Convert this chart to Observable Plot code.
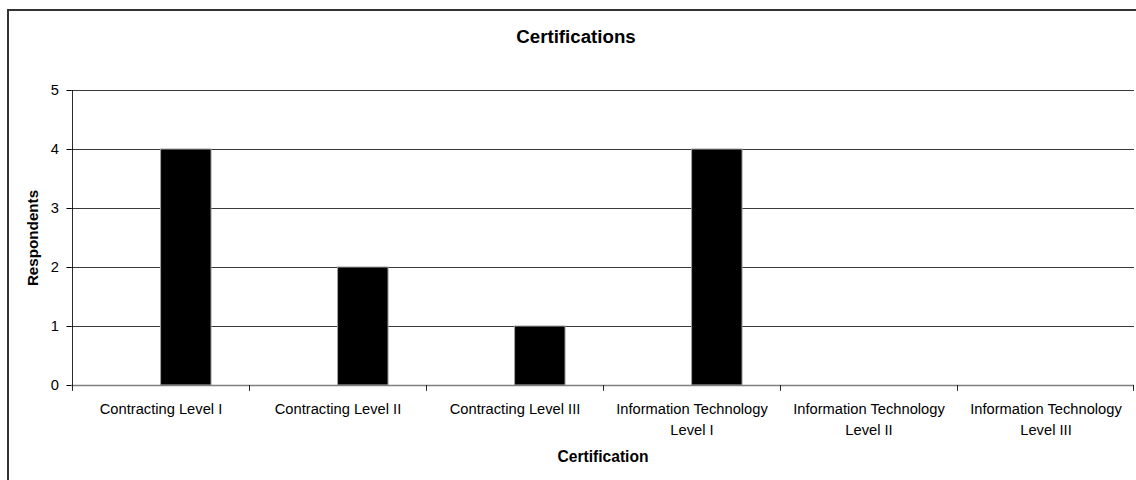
<!DOCTYPE html>
<html>
<head>
<meta charset="utf-8">
<script src="https://cdn.jsdelivr.net/npm/d3@7"></script>
<script src="https://cdn.jsdelivr.net/npm/@observablehq/plot@0.6"></script>
<style>
  html, body { margin: 0; padding: 0; background: #fff; }
  #chart { position: relative; width: 1136px; height: 480px; overflow: hidden; font-family: "Liberation Sans", Arial, sans-serif; }
  #border { position: absolute; left: 7px; top: 9px; width: 1300px; height: 700px; border: 2px solid #333; box-sizing: border-box; pointer-events: none; }
  #title { position: absolute; left: 8px; width: 1136px; top: 26px; line-height: 22px; text-align: center; font-weight: bold; font-size: 18.7px; color: #000; }
  #plot { position: absolute; left: 0; top: 54px; }
</style>
</head>
<body>
<div id="chart">
  <div id="border"></div>
  <div id="title">Certifications</div>
  <div id="plot"></div>
</div>
<script>
// Certification categories and respondent counts
const categories = [
  "Contracting Level I",
  "Contracting Level II",
  "Contracting Level III",
  "Information Technology Level I",
  "Information Technology Level II",
  "Information Technology Level III"
];
const respondents = [4, 2, 1, 4, 0, 0];
const tickLabels = [
  "Contracting Level I",
  "Contracting Level II",
  "Contracting Level III",
  "Information Technology\nLevel I",
  "Information Technology\nLevel II",
  "Information Technology\nLevel III"
];
const yTicks = [0, 1, 2, 3, 4, 5];

const data = categories.map((c, i) => ({category: c, respondents: respondents[i]}));

const width = 1136, height = 426;
const marginLeft = 71, marginRight = 2, marginTop = 36, marginBottom = 95;
const bw = (width - marginLeft - marginRight) / categories.length; // band width
const barW = bw / 3.5; // column width with 150% gap, second of two series slots

const chart = Plot.plot({
  width, height, marginLeft, marginRight, marginTop, marginBottom,
  style: {background: "transparent", fontFamily: "'Liberation Sans', Arial, sans-serif", fontSize: "14.7px", color: "#000"},
  x: {domain: categories, padding: 0, label: null},
  y: {domain: [0, 5], label: null},
  marks: [
    // horizontal gridlines
    Plot.ruleY(yTicks.filter(d => d > 0), {stroke: "#3a3a3a", strokeWidth: 1}),
    // columns
    Plot.barY(data, {
      x: "category", y: "respondents",
      fill: "#000", stroke: "#a0a0a0", strokeWidth: 1,
      insetLeft: bw / 2, insetRight: bw - bw / 2 - barW
    }),
    // category axis baseline
    Plot.ruleY([0], {stroke: "#808080", strokeWidth: 1.5}),
    // value axis line
    Plot.barY([categories[0]], {x: d => d, y1: 0, y2: 5, fill: "#000", insetRight: bw - 1}),
    // tick marks between categories
    Plot.barY(categories, {x: d => d, y1: 0, y2: -0.1, fill: "#000", insetRight: bw - 1}),
    Plot.barY([categories[categories.length - 1]], {x: d => d, y1: 0, y2: -0.1, fill: "#000", insetLeft: bw - 1}),
    Plot.axisY({ticks: yTicks, tickFormat: d3.format("d"), tickSize: 4.5, tickPadding: 8, fontSize: 14.7, stroke: "#000", label: null}),
    Plot.axisX({tickSize: 0, tickPadding: 13.6, lineHeight: 1.43, fontSize: 14.7,
      tickFormat: d => tickLabels[categories.indexOf(d)], label: null}),
    // axis titles
    Plot.text(["Certification"], {frameAnchor: "bottom", dy: 76, fontWeight: "bold", fontSize: 15.6, fill: "#000"}),
    Plot.text(["Respondents"], {frameAnchor: "left", textAnchor: "middle", dx: -38, rotate: -90, fontWeight: "bold", fontSize: 15.2, fill: "#000"})
  ]
});
document.getElementById("plot").appendChild(chart);
</script>
</body>
</html>
